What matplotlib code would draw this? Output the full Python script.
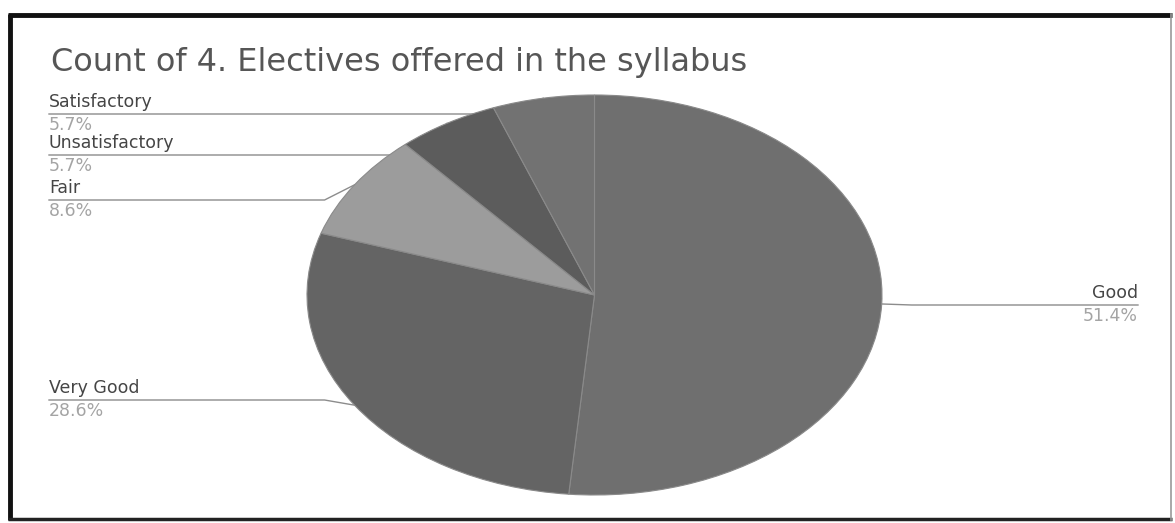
import numpy as np
import matplotlib
matplotlib.use("Agg")
import matplotlib.pyplot as plt

# Data (counts out of 35 responses)
categories = ["Good", "Very Good", "Fair", "Unsatisfactory", "Satisfactory"]
counts = [18, 10, 3, 2, 2]
slice_colors = ["#6f6f6f", "#646464", "#9c9c9c", "#5c5c5c", "#727272"]
title = "Count of 4. Electives offered in the syllabus"

# Layout in pixels (figure is 1175 x 523)
W, H = 1175, 523
pie_left, pie_right, pie_top, pie_bottom = 307, 882, 95, 495
cx = (pie_left + pie_right) / 2
cy = (pie_top + pie_bottom) / 2
rx = (pie_right - pie_left) / 2
ry = (pie_bottom - pie_top) / 2

# label anchor: (text x, underline y, side)
label_pos = {
    "Satisfactory": (49, 114, "left"),
    "Unsatisfactory": (49, 155, "left"),
    "Fair": (49, 200, "left"),
    "Very Good": (49, 400, "left"),
    "Good": (1138, 305, "right"),
}

fig = plt.figure(figsize=(W / 100, H / 100), dpi=100)
fig.patch.set_facecolor("white")

# overlay axes in pixel coordinates
ax = fig.add_axes([0, 0, 1, 1])
ax.set_xlim(0, W)
ax.set_ylim(H, 0)
ax.axis("off")

# frame
ax.plot([10, 10], [14, 520], color="#111111", lw=3.5, solid_capstyle="butt")
ax.plot([8, 1172], [15, 15], color="#111111", lw=3.5, solid_capstyle="butt")
ax.plot([8, 1172], [519, 519], color="#222222", lw=2.5, solid_capstyle="butt")
ax.plot([1171, 1171], [14, 520], color="#9a9a9a", lw=1.2)

# pie, stretched into an ellipse
pax = fig.add_axes([pie_left / W, 1 - pie_bottom / H,
                    (pie_right - pie_left) / W, (pie_bottom - pie_top) / H])
wedges, _ = pax.pie(counts, colors=slice_colors, startangle=90, counterclock=False,
                    wedgeprops=dict(edgecolor="#8a8a8a", linewidth=0.8))
pax.set_aspect("auto")
pax.set_xlim(-1, 1)
pax.set_ylim(-1, 1)
pax.axis("off")

total = sum(counts)
for w, cat, n in zip(wedges, categories, counts):
    mid = np.deg2rad((w.theta1 + w.theta2) / 2)
    px = cx + rx * np.cos(mid)
    py = cy - ry * np.sin(mid)
    tx, ly, side = label_pos[cat]
    knee = px - 30 if side == "left" else px + 30
    ax.plot([tx, knee, px], [ly, ly, py], color="#8c8c8c", lw=1.0)
    ha = "left" if side == "left" else "right"
    ax.text(tx, ly - 3, cat, ha=ha, va="bottom", fontsize=12.5,
            color="#454545", family="DejaVu Sans")
    ax.text(tx, ly + 2, f"{100 * n / total:.1f}%", ha=ha, va="top", fontsize=12.5,
            color="#a4a4a4", family="DejaVu Sans")

ax.text(51, 71, title, ha="left", va="baseline", fontsize=23,
        color="#565656", family="DejaVu Sans")

fig.savefig("out.png", dpi=100)
